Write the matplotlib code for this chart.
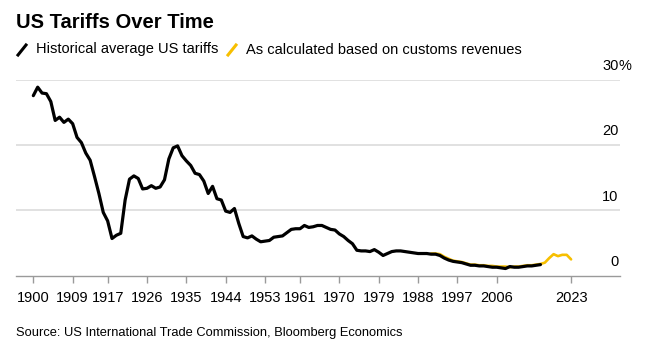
import matplotlib.pyplot as plt
from matplotlib.lines import Line2D

plt.rcParams['font.family'] = ['Liberation Sans', 'DejaVu Sans']

# historical average US tariffs (%), 1900-2016
hist_years = list(range(1900, 2017))
hist_values = [27.6, 28.9, 28.0, 27.9, 26.7, 23.8, 24.3, 23.5, 24.0, 23.3,
               21.2, 20.4, 18.8, 17.7, 15.2, 12.6, 9.7, 8.4, 5.7, 6.2,
               6.5, 11.6, 14.8, 15.3, 14.9, 13.3, 13.4, 13.8, 13.4, 13.6,
               14.7, 17.9, 19.6, 19.9, 18.4, 17.6, 16.9, 15.7, 15.5, 14.5,
               12.6, 13.7, 11.8, 11.6, 9.9, 9.7, 10.3, 8.0, 6.0, 5.8,
               6.1, 5.6, 5.2, 5.3, 5.4, 5.9, 6.0, 6.1, 6.6, 7.1,
               7.2, 7.2, 7.7, 7.4, 7.5, 7.7, 7.7, 7.4, 7.1, 7.0,
               6.4, 6.0, 5.4, 4.9, 3.9, 3.8, 3.8, 3.7, 4.0, 3.6,
               3.1, 3.4, 3.7, 3.8, 3.8, 3.7, 3.6, 3.5, 3.4, 3.4,
               3.4, 3.3, 3.3, 3.1, 2.7, 2.4, 2.2, 2.1, 2.0, 1.8,
               1.6, 1.6, 1.5, 1.5, 1.4, 1.3, 1.3, 1.2, 1.1, 1.4,
               1.3, 1.3, 1.4, 1.5, 1.5, 1.6, 1.7]

# calculated from customs revenues (%), 1991-2023
rev_years = list(range(1991, 2024))
rev_values = [3.4, 3.4, 3.3, 2.9, 2.6, 2.3, 2.2, 2.1, 1.9, 1.7,
              1.7, 1.6, 1.6, 1.5, 1.5, 1.4, 1.4, 1.4, 1.3, 1.4,
              1.4, 1.5, 1.6, 1.6, 1.7, 1.8, 2.0, 2.7, 3.3, 3.0,
              3.2, 3.2, 2.5]

x_ticks = [1900, 1909, 1917, 1926, 1935, 1944, 1953, 1961, 1970, 1979,
           1988, 1997, 2006, 2023]
y_ticks = [0, 10, 20, 30]

BLACK = '#000000'
YELLOW = '#F7BF00'

fig = plt.figure(figsize=(6.46, 3.53), dpi=100)
ax = fig.add_axes([16 / 646, (353 - 275.7) / 353, 604 / 646, 195.7 / 353])

ax.plot(rev_years, rev_values, color=YELLOW, lw=1.9, zorder=2,
        solid_capstyle='round', solid_joinstyle='round')
ax.plot(hist_years, hist_values, color=BLACK, lw=2.3, zorder=3,
        solid_capstyle='round', solid_joinstyle='round')

ax.set_xlim(1896.04, 2034.19)
ax.set_ylim(0, 30)

# gridlines
for v in y_ticks[1:]:
    ax.axhline(v, color='#dedede', lw=1.3, zorder=1)

for s in ['top', 'right', 'left']:
    ax.spines[s].set_visible(False)
ax.spines['bottom'].set_color('#9a9a9a')
ax.spines['bottom'].set_linewidth(1.0)

ax.set_xticks(x_ticks)
ax.set_xticklabels([str(y) for y in x_ticks], fontsize=10.5)
ax.tick_params(axis='x', length=5, width=1, color='#9a9a9a', pad=6)
ax.set_yticks([])

# y labels sit above the gridlines at the right edge
for v in y_ticks:
    ax.annotate(str(v), xy=(1, v), xycoords=('axes fraction', 'data'),
                xytext=(-1, 5), textcoords='offset points',
                ha='right', va='bottom', fontsize=10.5)
ax.annotate('%', xy=(1, 30), xycoords=('axes fraction', 'data'),
            xytext=(-1, 5), textcoords='offset points',
            ha='left', va='bottom', fontsize=10.5)

# title and legend
fig.text(16 / 646, 1 - 22 / 353, 'US Tariffs Over Time', fontsize=14.5,
         fontweight='bold', ha='left', va='center')

fig.add_artist(Line2D([18 / 646, 26 / 646], [1 - 55 / 353, 1 - 45 / 353],
                      color=BLACK, lw=2.2))
fig.text(35.5 / 646, 1 - 49.5 / 353, 'Historical average US tariffs',
         fontsize=10.5, ha='left', va='center')
fig.add_artist(Line2D([228 / 646, 236 / 646], [1 - 55 / 353, 1 - 45 / 353],
                      color=YELLOW, lw=2.2))
fig.text(245.5 / 646, 1 - 49.5 / 353, 'As calculated based on customs revenues',
         fontsize=10.5, ha='left', va='center')

fig.text(16 / 646, 1 - 333 / 353,
         'Source: US International Trade Commission, Bloomberg Economics',
         fontsize=9.3, ha='left', va='center')

fig.savefig('out.png', dpi=100)
